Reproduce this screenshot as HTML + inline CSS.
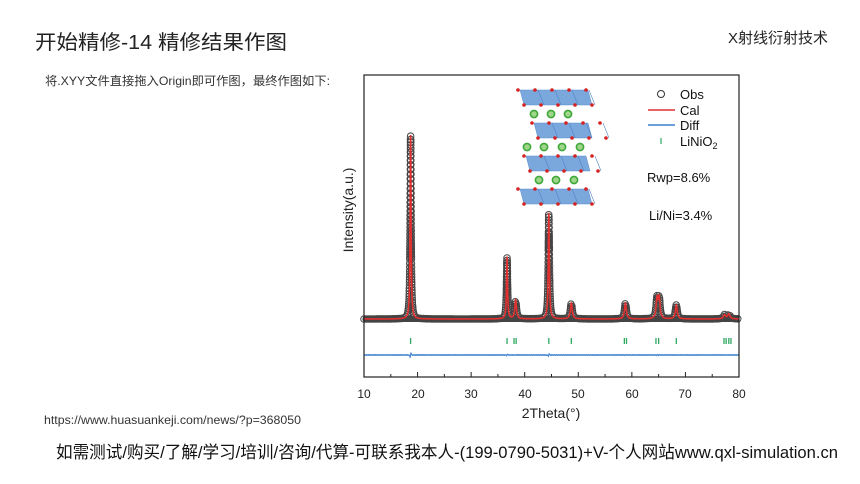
<!DOCTYPE html>
<html><head><meta charset="utf-8"><style>
html,body{margin:0;padding:0;background:#fff;}
svg{display:block;}
</style></head><body>
<svg id="s" width="860" height="484" xmlns="http://www.w3.org/2000/svg" font-family="Liberation Sans, Noto Sans CJK SC, sans-serif">
<text x="35" y="49" font-size="20" fill="#222" textLength="252" lengthAdjust="spacingAndGlyphs">开始精修-14 精修结果作图</text>
<text x="728" y="43" font-size="15" fill="#222">X射线衍射技术</text>
<text x="45" y="85" font-size="12" fill="#333" textLength="285" lengthAdjust="spacingAndGlyphs">将.XYY文件直接拖入Origin即可作图，最终作图如下:</text>
<text x="44" y="424" font-size="12" fill="#333" textLength="257" lengthAdjust="spacingAndGlyphs">https://www.huasuankeji.com/news/?p=368050</text>
<text x="56" y="458" font-size="17" fill="#111" textLength="782" lengthAdjust="spacingAndGlyphs">如需测试/购买/了解/学习/培训/咨询/代算-可联系我本人-(199-0790-5031)+V-个人网站www.qxl-simulation.cn</text>
<g id="plot"></g>
<rect x="364" y="75" width="375" height="302" fill="none" stroke="#222" stroke-width="1.2"/>
<g font-size="12" fill="#222" text-anchor="middle">
<text x="364" y="398">10</text><text x="418" y="398">20</text><text x="471" y="398">30</text><text x="525" y="398">40</text><text x="578" y="398">50</text><text x="632" y="398">60</text><text x="685" y="398">70</text><text x="739" y="398">80</text>
<text x="551" y="418" font-size="14">2Theta(°)</text>
<text transform="translate(353,210) rotate(-90)" font-size="14">Intensity(a.u.)</text>
</g>
<g font-size="13" fill="#111">
<circle cx="661" cy="94" r="3.5" fill="none" stroke="#333"/><text x="680" y="99">Obs</text>
<line x1="648" y1="110" x2="675" y2="110" stroke="#e03030" stroke-width="1.5"/><text x="680" y="115">Cal</text>
<line x1="648" y1="125" x2="675" y2="125" stroke="#3a7fd0" stroke-width="1.5"/><text x="680" y="130">Diff</text>
<line x1="661" y1="138" x2="661" y2="144" stroke="#2fa860" stroke-width="1.2"/><text x="680" y="146">LiNiO<tspan font-size="9" dy="3">2</tspan></text>
<text x="647" y="182">Rwp=8.6%</text>
<text x="649" y="220">Li/Ni=3.4%</text>
</g>
<g id="struct"></g>
</svg>
<script>
var NS="http://www.w3.org/2000/svg";
function el(p,t,a){var e=document.createElementNS(NS,t);for(var k in a)e.setAttribute(k,a[k]);p.appendChild(e);return e;}
var P=document.getElementById('plot');
function X(t){return 364+(t-10)*375/70;}
var peaks=[[18.7,184,0.1],[36.7,62,0.11],[38.3,19,0.18],[44.5,106,0.12],[48.7,16,0.2],[58.8,16,0.2],[64.7,20,0.2],[65.1,20,0.18],[68.3,14,0.2],[77.3,4,0.25],[78.1,5,0.25]];
function I(t){var s=0;for(var i=0;i<peaks.length;i++){var d=(t-peaks[i][0])/peaks[i][2];s+=peaks[i][1]/(1+d*d);}return s;}
var B=319;
var g=el(P,'g',{fill:'none',stroke:'#444','stroke-width':'1'});
var lx=-99,ly=-99;
for(var t=10;t<=80;t+=0.004){var x=X(t),y=B-I(t);if(Math.hypot(x-lx,y-ly)>=2.2){el(g,'circle',{cx:x.toFixed(1),cy:y.toFixed(1),r:3.3});lx=x;ly=y;}}
el(P,'line',{x1:364,y1:B,x2:739,y2:B,stroke:'#444','stroke-width':'6'});
var d='';for(var t=10;t<=80;t+=0.01){d+=(d?'L':'M')+X(t).toFixed(2)+','+(B-I(t)).toFixed(2);}
el(P,'path',{d:d,fill:'none',stroke:'#e03030','stroke-width':'1.6'});
var ticks=[18.7,36.7,38.0,38.4,44.5,48.7,58.6,59.0,64.5,65.0,68.3,77.2,77.6,78.1,78.5];
ticks.forEach(function(t){el(P,'line',{x1:X(t),y1:338,x2:X(t),y2:344,stroke:'#2fa860','stroke-width':'1.3'});});
var dd='';for(var t=10;t<=80;t+=0.05){var v=0;peaks.forEach(function(p){var q=(t-p[0])/0.12;v+=p[1]*0.03*q*Math.exp(-q*q);});v+=Math.sin(t*37)*0.3;dd+=(dd?'L':'M')+X(t).toFixed(2)+','+(355-v).toFixed(2);}
el(P,'path',{d:dd,fill:'none',stroke:'#3a7fd0','stroke-width':'1'});
for(var i=0;i<=14;i++){var x=364+i*375/14;el(P,'line',{x1:x,y1:377,x2:x,y2:i%2?374:372,stroke:'#222'});}
var S=document.getElementById('struct');
var layers=[[90,516,592],[123,530,592],[156,522,590],[189,516,592]];
layers.forEach(function(L,li){var y=L[0],x0=L[1],x1=L[2];
 el(S,'polygon',{points:(x0+4)+','+y+' '+(x1-4)+','+y+' '+x1+','+(y+15)+' '+(x0+8)+','+(y+15),fill:'#7aa7dc',stroke:'#5d8fcf','stroke-width':'0.5'});
 for(var k=0;k<4;k++){el(S,'line',{x1:x0+22+k*17,y1:y,x2:x0+28+k*17,y2:y+15,stroke:'#4f83c6','stroke-width':'0.6'});}
 for(var k=0;k<5;k++){el(S,'circle',{cx:x0+2+k*17,cy:y,r:1.8,fill:'#d42222'});el(S,'circle',{cx:x0+8+k*17,cy:y+15,r:1.8,fill:'#d42222'});}
});
[[114,[534,551,568]],[147,[527,544,562,580]],[180,[539,556,574]]].forEach(function(r){r[1].forEach(function(x){el(S,'circle',{cx:x,cy:r[0],r:3.6,fill:'#9ed68a',stroke:'#3fa83a','stroke-width':'1.6'});});});
</script>
</body></html>
